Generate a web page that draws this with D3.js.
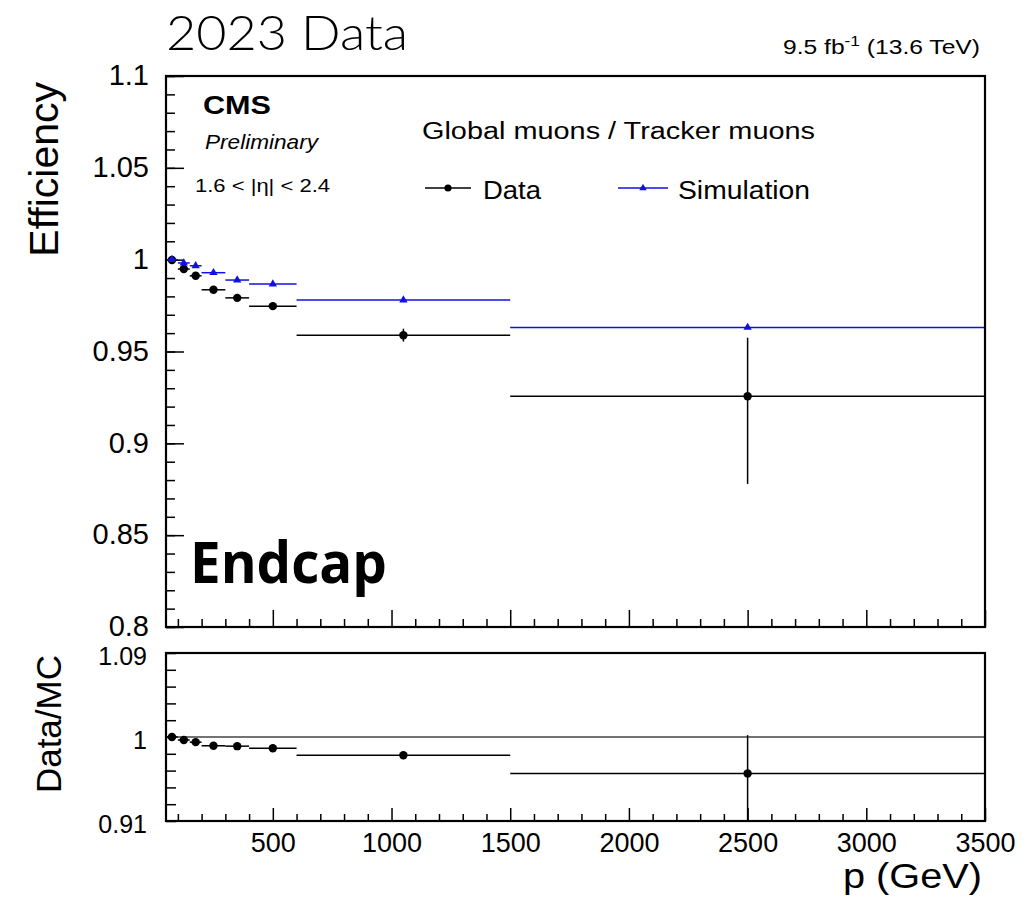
<!DOCTYPE html>
<html>
<head>
<meta charset="utf-8">
<script src="https://d3js.org/d3.v7.min.js"></script>
<style>
  body { margin: 0; background: #fff; }
  text { font-family: "Liberation Sans", Arial, sans-serif; fill: #000; }
  .axis path { display: none; }
  .axis line { stroke: #000; stroke-width: 1.5px; }
</style>
</head>
<body>
<script type="text/javascript">

  // momentum bins (GeV)
  var binLo = [50, 100, 150, 200, 300, 400, 600, 1500];
  var binHi = [100, 150, 200, 300, 400, 600, 1500, 3500];
  var binCenter = [75, 125, 175, 250, 350, 500, 1050, 2500];

  // efficiency, data
  var dataEff = [0.9998, 0.9949, 0.9912, 0.9836, 0.9792, 0.9747, 0.9589, 0.9256];
  var dataErrLo = [0.0004, 0.0006, 0.0008, 0.0010, 0.0012, 0.0015, 0.0035, 0.0477];
  var dataErrHi = [0.0004, 0.0006, 0.0008, 0.0010, 0.0012, 0.0015, 0.0035, 0.0319];

  // efficiency, simulation
  var simEff = [1.0000, 0.9982, 0.9967, 0.9929, 0.9889, 0.9867, 0.9780, 0.9631];

  // data / MC
  var ratio = [1.0000, 0.9968, 0.9945, 0.9906, 0.9902, 0.9879, 0.9805, 0.9610];
  var ratioErrLo = [0.0004, 0.0006, 0.0008, 0.0010, 0.0012, 0.0015, 0.0036, 0.0700];
  var ratioErrHi = [0.0004, 0.0006, 0.0008, 0.0010, 0.0012, 0.0015, 0.0036, 0.0410];

  // tick labels
  var xTicks = [500, 1000, 1500, 2000, 2500, 3000, 3500];
  var effTicks = [0.8, 0.85, 0.9, 0.95, 1, 1.05, 1.1];
  var ratioTicks = [0.91, 1, 1.09];

  var w = 1031, h = 898;

  var svg = d3.select("body").append("svg")
      .attr("width", w)
      .attr("height", h);

  var left = 166, right = 985;
  var top1 = 76, bot1 = 627;
  var top2 = 653, bot2 = 821;

  var x = d3.scaleLinear().domain([50, 3500]).range([left, right]);
  var y = d3.scaleLinear().domain([0.8, 1.1]).range([bot1, top1]);
  var yr = d3.scaleLinear().domain([0.91, 1.09]).range([bot2, top2]);

  var fmt = d3.format("~g");
  var xMinor = d3.range(100, 3500, 100).filter(function(d) { return d % 500 != 0; });
  var effMinor = d3.range(80, 111).map(function(d) { return d / 100; });
  var ratioMinor = d3.range(0, 11).map(function(i) { return 0.91 + i * 0.018; });

  svg.append("clipPath").attr("id", "clipTop")
    .append("rect").attr("x", left).attr("y", top1).attr("width", right - left).attr("height", bot1 - top1);
  svg.append("clipPath").attr("id", "clipBot")
    .append("rect").attr("x", left).attr("y", top2).attr("width", right - left).attr("height", bot2 - top2);

  // ---------- top panel axes ----------
  svg.append("g").attr("class", "axis")
      .attr("transform", "translate(0," + bot1 + ")")
      .call(d3.axisBottom(x).tickValues(xMinor).tickSize(-8).tickFormat(""));
  svg.append("g").attr("class", "axis")
      .attr("transform", "translate(0," + bot1 + ")")
      .call(d3.axisBottom(x).tickValues(xTicks).tickSize(-17).tickFormat(""));

  svg.append("g").attr("class", "axis")
      .attr("transform", "translate(" + left + ",0)")
      .call(d3.axisLeft(y).tickValues(effMinor).tickSize(-9).tickFormat(""));
  svg.append("g").attr("class", "axis")
      .attr("transform", "translate(" + left + ",0)")
      .call(d3.axisLeft(y).tickValues(effTicks).tickSize(-18).tickPadding(17).tickFormat(fmt))
    .selectAll("text")
      .attr("dy", "0.3em")
      .style("font-size", "29px");

  // ---------- ratio panel axes ----------
  svg.append("g").attr("class", "axis")
      .attr("transform", "translate(0," + bot2 + ")")
      .call(d3.axisBottom(x).tickValues(xMinor).tickSize(-7).tickFormat(""));
  svg.append("g").attr("class", "axis")
      .attr("transform", "translate(0," + bot2 + ")")
      .call(d3.axisBottom(x).tickValues(xTicks).tickSize(-13).tickPadding(12).tickFormat(fmt))
    .selectAll("text")
      .style("font-size", "27px");

  svg.append("g").attr("class", "axis")
      .attr("transform", "translate(" + left + ",0)")
      .call(d3.axisLeft(yr).tickValues(ratioMinor).tickSize(-10).tickFormat(""));
  svg.append("g").attr("class", "axis")
      .attr("transform", "translate(" + left + ",0)")
      .call(d3.axisLeft(yr).tickValues(ratioTicks).tickSize(0).tickPadding(19).tickFormat(fmt))
    .selectAll("text")
      .attr("dy", "0.45em")
      .style("font-size", "25px");

  // line at 1 in ratio panel
  svg.append("line")
      .attr("x1", left).attr("x2", right)
      .attr("y1", yr(1)).attr("y2", yr(1))
      .attr("stroke", "#444").attr("stroke-width", 1.3);

  // ---------- points ----------
  var idx = d3.range(binCenter.length);
  var gTop = svg.append("g").attr("clip-path", "url(#clipTop)");
  var gBot = svg.append("g").attr("clip-path", "url(#clipBot)");

  function drawSeries(g, ys, vals, lo, hi, color, marker) {
    var s = g.append("g").selectAll("g").data(idx).enter().append("g");
    s.append("line")
      .attr("x1", function(i) { return x(binLo[i]); })
      .attr("x2", function(i) { return x(binHi[i]); })
      .attr("y1", function(i) { return ys(vals[i]); })
      .attr("y2", function(i) { return ys(vals[i]); })
      .attr("stroke", color).attr("stroke-width", 1.5);
    if (lo) {
      s.append("line")
        .attr("x1", function(i) { return x(binCenter[i]); })
        .attr("x2", function(i) { return x(binCenter[i]); })
        .attr("y1", function(i) { return ys(vals[i] - lo[i]); })
        .attr("y2", function(i) { return ys(vals[i] + hi[i]); })
        .attr("stroke", color).attr("stroke-width", 1.5);
    }
    s.append("path")
      .attr("d", d3.symbol().type(marker == "circle" ? d3.symbolCircle : d3.symbolTriangle)
                    .size(marker == "circle" ? 56 : 30))
      .attr("transform", function(i) { return "translate(" + x(binCenter[i]) + "," + ys(vals[i]) + ")"; })
      .attr("fill", color);
  }

  drawSeries(gTop, y, dataEff, dataErrLo, dataErrHi, "#000", "circle");
  drawSeries(gTop, y, simEff, null, null, "#1010e0", "triangle");
  drawSeries(gBot, yr, ratio, ratioErrLo, ratioErrHi, "#000", "circle");

  // frames
  svg.append("rect").attr("x", left).attr("y", top1).attr("width", right - left).attr("height", bot1 - top1)
      .attr("fill", "none").attr("stroke", "#000").attr("stroke-width", 2.2);
  svg.append("rect").attr("x", left).attr("y", top2).attr("width", right - left).attr("height", bot2 - top2)
      .attr("fill", "none").attr("stroke", "#000").attr("stroke-width", 2.2);

  // ---------- titles ----------
  svg.append("text")
      .attr("x", 166).attr("y", 50)
      .attr("textLength", 242).attr("lengthAdjust", "spacingAndGlyphs")
      .style("font-family", "Lato, 'Liberation Sans', sans-serif")
      .style("font-weight", 300)
      .style("font-size", "47px")
      .text("2023 Data");

  var lumi = svg.append("text")
      .attr("x", 980).attr("y", 54)
      .attr("text-anchor", "end")
      .style("font-size", "20px");
  lumi.append("tspan").text("9.5 fb");
  lumi.append("tspan").attr("dy", -8).style("font-size", "14px").text("-1");
  lumi.append("tspan").attr("dy", 8).text(" (13.6 TeV)");
  lumi.attr("textLength", 197).attr("lengthAdjust", "spacingAndGlyphs");

  svg.append("text")
      .attr("transform", "translate(58,82) rotate(-90)")
      .attr("text-anchor", "end")
      .style("font-size", "41px")
      .text("Efficiency");

  svg.append("text")
      .attr("transform", "translate(61,655) rotate(-90)")
      .attr("text-anchor", "end")
      .style("font-size", "35px")
      .text("Data/MC");

  svg.append("text")
      .attr("x", 982).attr("y", 888)
      .attr("text-anchor", "end")
      .attr("textLength", 139).attr("lengthAdjust", "spacingAndGlyphs")
      .style("font-size", "35px")
      .text("p (GeV)");

  svg.append("text")
      .attr("x", 203).attr("y", 114)
      .attr("textLength", 68).attr("lengthAdjust", "spacingAndGlyphs")
      .style("font-size", "25px").style("font-weight", "bold")
      .text("CMS");

  svg.append("text")
      .attr("x", 205).attr("y", 149)
      .attr("textLength", 113).attr("lengthAdjust", "spacingAndGlyphs")
      .style("font-size", "21px").style("font-style", "italic")
      .text("Preliminary");

  svg.append("text")
      .attr("x", 195).attr("y", 192)
      .attr("textLength", 135).attr("lengthAdjust", "spacingAndGlyphs")
      .style("font-size", "19px")
      .text("1.6 < |η| < 2.4");

  svg.append("text")
      .attr("x", 190).attr("y", 583)
      .attr("textLength", 197).attr("lengthAdjust", "spacingAndGlyphs")
      .style("font-family", "'Open Sans', sans-serif")
      .style("font-weight", "bold")
      .style("font-size", "58px")
      .text("Endcap");

  // ---------- legend ----------
  svg.append("text")
      .attr("x", 422).attr("y", 139)
      .attr("textLength", 393).attr("lengthAdjust", "spacingAndGlyphs")
      .style("font-size", "23px")
      .text("Global muons / Tracker muons");

  var legend = [
    {name: "Data", color: "#000", marker: d3.symbolCircle, size: 40, x1: 425, x2: 471, tx: 483, len: 58},
    {name: "Simulation", color: "#1010e0", marker: d3.symbolTriangle, size: 24, x1: 618, x2: 668, tx: 678, len: 132}
  ];

  var lg = svg.append("g").selectAll("g").data(legend).enter().append("g");
  lg.append("line")
      .attr("x1", function(d) { return d.x1; }).attr("x2", function(d) { return d.x2; })
      .attr("y1", 188).attr("y2", 188)
      .attr("stroke", function(d) { return d.color; }).attr("stroke-width", 1.5);
  lg.append("path")
      .attr("d", function(d) { return d3.symbol().type(d.marker).size(d.size)(); })
      .attr("transform", function(d) { return "translate(" + (d.x1 + d.x2) / 2 + ",188)"; })
      .attr("fill", function(d) { return d.color; });
  lg.append("text")
      .attr("x", function(d) { return d.tx; }).attr("y", 199)
      .attr("textLength", function(d) { return d.len; }).attr("lengthAdjust", "spacingAndGlyphs")
      .style("font-size", "25px")
      .text(function(d) { return d.name; });

</script>
</body>
</html>
